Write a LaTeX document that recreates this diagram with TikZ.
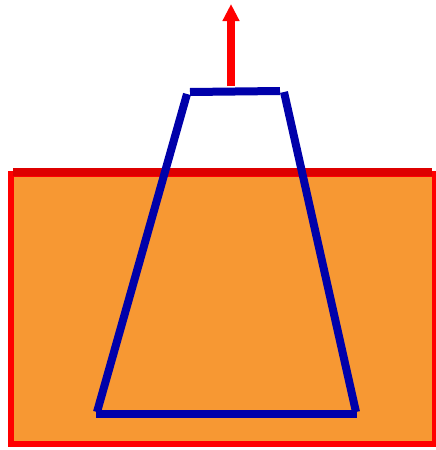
\documentclass[tikz,border=0pt]{standalone}
\usetikzlibrary{arrows.meta}
\definecolor{boxorange}{RGB}{247,152,51}
\definecolor{boxred}{RGB}{255,0,0}
\definecolor{topred}{RGB}{222,0,0}
\definecolor{trapblue}{RGB}{0,0,170}
\tikzset{
  blueline/.style={draw=trapblue,line width=8pt},
  liftarrow/.style={draw=boxred,line width=8pt,-{Triangle[width=16pt,length=17pt]}}
}
\begin{document}
\begin{tikzpicture}[x=1pt,y=-1pt]
\useasboundingbox (0,0) rectangle (436,450);
\begin{scope}
\clip (0,0) rectangle (436,450);
\fill[boxorange] (11,174) rectangle (435,444);
\draw[boxred,line width=6.5pt] (11,174) rectangle (435,444);
\end{scope}
\draw[topred,line width=8pt] (13,172) -- (432,172);
\coordinate (tl) at (187,94);
\coordinate (tr) at (284,92);
\coordinate (bl) at (97,412);
\coordinate (br) at (356,412);
\draw[blueline] (190,92) -- (280,91);
\draw[blueline] (tl) -- (bl);
\draw[blueline] (tr) -- (br);
\draw[blueline] (96,414) -- (357,414);
\coordinate (abase) at (231,86);
\coordinate (atip) at (231,4);
\draw[liftarrow] (abase) -- (atip);
\end{tikzpicture}
\end{document}
